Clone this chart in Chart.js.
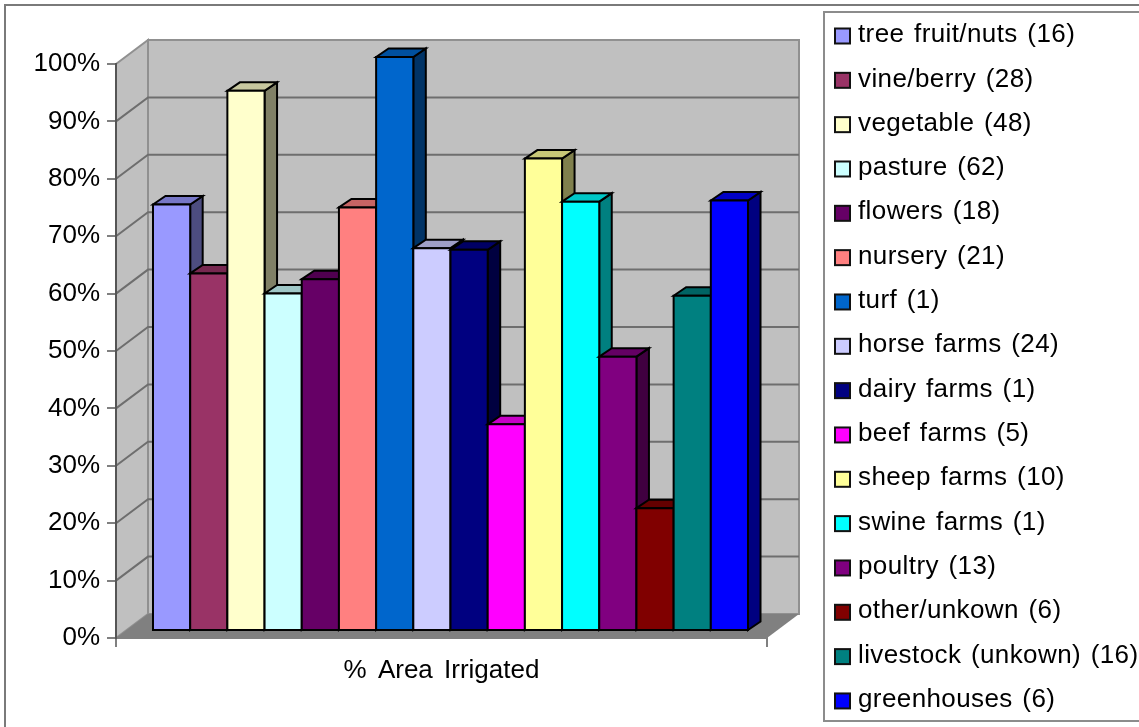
<!DOCTYPE html>
<html>
<head>
<meta charset="utf-8">
<style>html,body{margin:0;padding:0;background:#fff;overflow:hidden}canvas{display:block}</style>
<script src="https://cdn.jsdelivr.net/npm/chart.js@4"></script>
</head>
<body>
<canvas id="chart" width="1139" height="727"></canvas>
<script>
// Farm types with survey counts, and the share of area irrigated for each.
const categories = ['% Area Irrigated'];
const farmTypes = ['tree fruit/nuts (16)', 'vine/berry (28)', 'vegetable (48)', 'pasture (62)',
  'flowers (18)', 'nursery (21)', 'turf (1)', 'horse farms (24)', 'dairy farms (1)', 'beef farms (5)',
  'sheep farms (10)', 'swine farms (1)', 'poultry (13)', 'other/unkown (6)', 'livestock (unkown) (16)',
  'greenhouses (6)'];
const irrigatedPct = [74.3, 62.3, 94.1, 58.8, 61.3, 73.8, 100, 66.7, 66.4, 36, 82.3, 74.8, 47.8, 21.4, 58.4, 75];
const barColors = ['#9999FF', '#993366', '#FFFFCC', '#CCFFFF', '#660066', '#FF8080', '#0066CC', '#CCCCFF',
  '#000080', '#FF00FF', '#FFFF99', '#00FFFF', '#800080', '#800000', '#008080', '#0000FF'];
const yTicks = [0, 10, 20, 30, 40, 50, 60, 70, 80, 90, 100];

const FONT = '"Liberation Sans", Arial, sans-serif';
const FONT_SIZE = 26;
// Projection of the box: wall depth, bar position on the floor, bar depth.
const WALL = {dx: 32, dy: -24};
const BAR_PLANE = {dx: 9, dy: -7};
const BAR_DEPTH = {dx: 12.5, dy: -8.5};

function shade(hex, f) {
  const n = parseInt(hex.slice(1), 16);
  const c = [n >> 16, (n >> 8) & 255, n & 255].map(v => Math.round(v * f));
  return `rgb(${c[0]},${c[1]},${c[2]})`;
}

function poly(ctx, pts, fill, stroke, lw) {
  ctx.beginPath();
  pts.forEach((p, i) => i ? ctx.lineTo(p[0], p[1]) : ctx.moveTo(p[0], p[1]));
  ctx.closePath();
  if (fill) { ctx.fillStyle = fill; ctx.fill(); }
  if (stroke) { ctx.strokeStyle = stroke; ctx.lineWidth = lw; ctx.lineJoin = 'miter'; ctx.stroke(); }
}

// Back wall, side wall, floor and gridlines, placed from the value scale.
const box3d = {
  id: 'box3d',
  beforeDraw(chart) {
    const {ctx, chartArea: a, scales: {y}} = chart;
    const L = a.left, R = a.right, T = y.getPixelForValue(100), B = y.getPixelForValue(0);
    const dx = WALL.dx, dy = WALL.dy;
    ctx.save();
    // outer frame
    ctx.strokeStyle = '#7a7a7a'; ctx.lineWidth = 2;
    ctx.beginPath(); ctx.moveTo(5, 727); ctx.lineTo(5, 5); ctx.lineTo(1139, 5); ctx.stroke();

    poly(ctx, [[L + dx, T + dy], [R + dx, T + dy], [R + dx, B + dy], [L + dx, B + dy]], '#C0C0C0', '#909090', 2);
    poly(ctx, [[L, T], [L + dx, T + dy], [L + dx, B + dy], [L, B]], '#C0C0C0', '#909090', 2);
    poly(ctx, [[L, B], [L + dx, B + dy], [R + dx, B + dy], [R, B]], '#808080', null);

    ctx.strokeStyle = '#6e6e6e'; ctx.lineWidth = 2;
    yTicks.slice(1, -1).forEach(v => {
      const py = y.getPixelForValue(v);
      ctx.beginPath(); ctx.moveTo(L, py); ctx.lineTo(L + dx, py + dy); ctx.lineTo(R + dx, py + dy); ctx.stroke();
    });
    ctx.restore();
    // The axis caption has wide word gaps.
    ctx.wordSpacing = '4px';
  },
  // Bars are painted left to right so each one overlaps its neighbour's side face.
  beforeDatasetsDraw(chart) {
    const {ctx} = chart;
    ctx.save();
    chart.data.datasets.forEach((ds, i) => {
      const bar = chart.getDatasetMeta(i).data[0];
      const l = bar.x - bar.width / 2 + BAR_PLANE.dx, r = l + bar.width;
      const t = bar.y + BAR_PLANE.dy, b = bar.base + BAR_PLANE.dy;
      const ox = BAR_DEPTH.dx, oy = BAR_DEPTH.dy;
      poly(ctx, [[r, b], [r + ox, b + oy], [r + ox, t + oy], [r, t]], shade(ds.backgroundColor, 0.5), '#000', 2);
      poly(ctx, [[l, t], [l + ox, t + oy], [r + ox, t + oy], [r, t]], shade(ds.backgroundColor, 0.78), '#000', 2);
      poly(ctx, [[l, t], [r, t], [r, b], [l, b]], ds.backgroundColor, '#000', 2);
    });
    ctx.restore();
    return false;
  },
  // Framed key on the right, one row per dataset.
  afterDraw(chart) {
    const {ctx} = chart;
    const rowTop = 35, rowStep = 44.33;
    ctx.save();
    ctx.strokeStyle = '#8c8c8c'; ctx.lineWidth = 2;
    ctx.strokeRect(824, 12, 340, 709);
    ctx.font = `${FONT_SIZE}px ${FONT}`;
    ctx.textBaseline = 'middle';
    ctx.textAlign = 'left';
    ctx.letterSpacing = '0.4px';
    ctx.wordSpacing = '2px';
    chart.data.datasets.forEach((ds, i) => {
      const cy = rowTop + i * rowStep;
      ctx.fillStyle = ds.backgroundColor;
      ctx.strokeStyle = '#111'; ctx.lineWidth = 2;
      ctx.fillRect(835, cy - 6.5, 15, 15);
      ctx.strokeRect(835, cy - 6.5, 15, 15);
      ctx.fillStyle = '#000';
      ctx.fillText(ds.label, 858, cy);
    });
    ctx.restore();
  }
};

new Chart(document.getElementById('chart'), {
  type: 'bar',
  data: {
    labels: categories,
    datasets: farmTypes.map((label, i) => ({
      label,
      data: [irrigatedPct[i]],
      backgroundColor: barColors[i],
      borderColor: '#000',
      borderWidth: 2
    }))
  },
  plugins: [box3d],
  options: {
    responsive: false,
    animation: false,
    events: [],
    datasets: {bar: {categoryPercentage: 0.914, barPercentage: 1}},
    layout: {padding: {top: 64, right: 372, left: 0, bottom: 0}},
    plugins: {legend: {display: false}, tooltip: {enabled: false}, title: {display: false}},
    scales: {
      x: {
        afterFit(s) { s.height = 89; },
        border: {display: true, color: '#808080', width: 2},
        grid: {offset: true, drawOnChartArea: false, color: '#808080', lineWidth: 2, tickLength: 9},
        ticks: {color: '#000', font: {family: FONT, size: FONT_SIZE}, padding: 8, maxRotation: 0}
      },
      y: {
        min: 0, max: 100,
        afterFit(s) { s.width = 116; },
        afterBuildTicks(s) { s.ticks = yTicks.map(value => ({value})); },
        border: {display: true, color: '#555', width: 2},
        grid: {drawOnChartArea: false, color: '#808080', lineWidth: 2, tickLength: 9},
        ticks: {color: '#000', font: {family: FONT, size: FONT_SIZE}, padding: 7, callback: v => v + '%'}
      }
    }
  }
});
</script>
</body>
</html>
